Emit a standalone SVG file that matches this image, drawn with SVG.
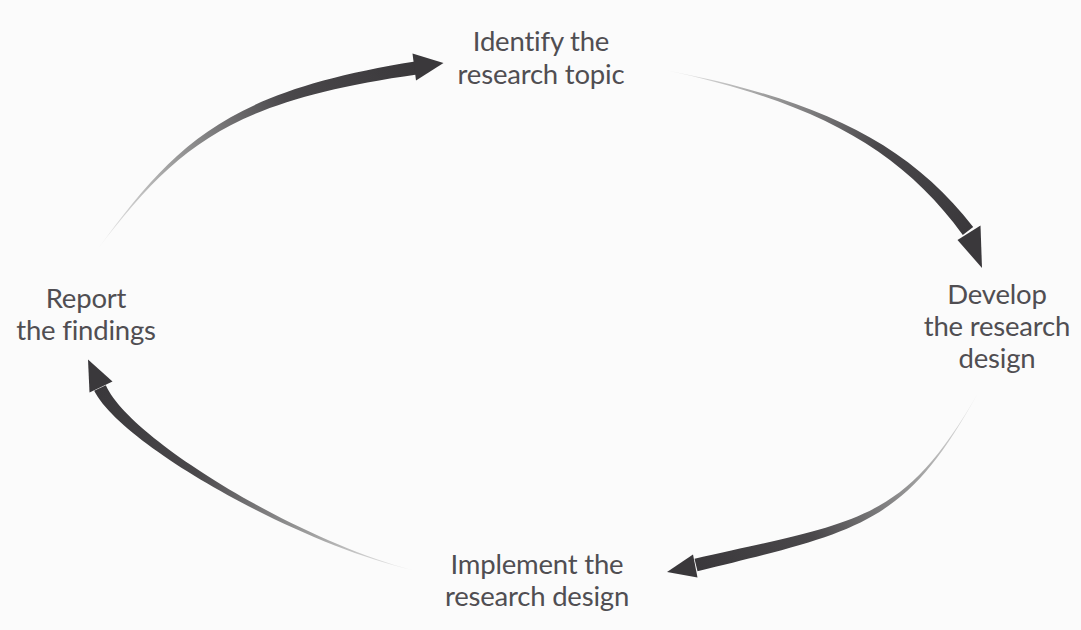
<svg xmlns="http://www.w3.org/2000/svg" width="1081" height="630" viewBox="0 0 1081 630">
  <style>
    .lbl { font-family: "Lato", "Liberation Sans", sans-serif; font-size: 27.5px; letter-spacing: -0.2px; fill: #504e52; text-anchor: middle; }
    .head { fill: #3a383b; }
  </style>
  <defs>
    <linearGradient id="g1" gradientUnits="userSpaceOnUse" x1="97" y1="250" x2="416" y2="68">
      <stop offset="0" stop-color="#f2f2f2"/>
      <stop offset="0.3" stop-color="#9c9c9c"/>
      <stop offset="0.65" stop-color="#4a484b"/>
      <stop offset="1" stop-color="#3a383b"/>
    </linearGradient>
    <linearGradient id="g2" gradientUnits="userSpaceOnUse" x1="665" y1="70" x2="968" y2="231">
      <stop offset="0" stop-color="#f2f2f2"/>
      <stop offset="0.3" stop-color="#9c9c9c"/>
      <stop offset="0.65" stop-color="#4a484b"/>
      <stop offset="1" stop-color="#3a383b"/>
    </linearGradient>
    <linearGradient id="g3" gradientUnits="userSpaceOnUse" x1="978" y1="393" x2="696" y2="565">
      <stop offset="0" stop-color="#f2f2f2"/>
      <stop offset="0.3" stop-color="#9c9c9c"/>
      <stop offset="0.65" stop-color="#4a484b"/>
      <stop offset="1" stop-color="#3a383b"/>
    </linearGradient>
    <linearGradient id="g4" gradientUnits="userSpaceOnUse" x1="412" y1="570" x2="100" y2="388">
      <stop offset="0" stop-color="#f2f2f2"/>
      <stop offset="0.3" stop-color="#9c9c9c"/>
      <stop offset="0.65" stop-color="#4a484b"/>
      <stop offset="1" stop-color="#3a383b"/>
    </linearGradient>
  </defs>
  <rect x="0" y="0" width="1081" height="630" fill="#fbfbfb"/>

  <g id="connectors">
    <g id="arrow-identify-to-develop">
      <path fill="url(#g2)" d="M665,70 C812.3,98.5 905.3,139.3 973.2,227.1 L962.8,234.9 C898.7,146.7 811.7,101.5 665,70 Z"/>
      <polygon class="head" points="982,268 957.5,240 980.5,225.5"/>
    </g>
    <g id="arrow-develop-to-implement">
      <path fill="url(#g3)" d="M978,393 C905.8,524.2 861.75,530.9 697.5,571.3 L694.5,558.7 C860.25,521.1 903.2,522.8 978,393 Z"/>
      <polygon class="head" points="667,572 693,554.5 697.5,577.5"/>
    </g>
    <g id="arrow-implement-to-report">
      <path fill="url(#g4)" d="M412,570 C295.2,542.7 122.3,445.5 94.15,390.8 L105.85,385.2 C129.3,438.5 296,539.7 412,570 Z"/>
      <polygon class="head" points="88,359.5 89.5,392.5 112.5,381.5"/>
    </g>
    <g id="arrow-report-to-identify">
      <path fill="url(#g1)" d="M97,250 C173.8,145.1 224.2,91.9 415,61.6 L417,74.4 C227.8,101.1 176.2,146.9 97,250 Z"/>
      <polygon class="head" points="443.5,63 412.5,53.5 416,80.5"/>
    </g>
  </g>

  <g id="node-identify">
    <text class="lbl" x="541" y="51">Identify the</text>
    <text class="lbl" x="541" y="84">research topic</text>
  </g>
  <g id="node-develop">
    <text class="lbl" x="997" y="304">Develop</text>
    <text class="lbl" x="997" y="336">the research</text>
    <text class="lbl" x="997" y="368">design</text>
  </g>
  <g id="node-implement">
    <text class="lbl" x="537" y="574">Implement the</text>
    <text class="lbl" x="537" y="606">research design</text>
  </g>
  <g id="node-report">
    <text class="lbl" x="86" y="308">Report</text>
    <text class="lbl" x="86" y="340">the findings</text>
  </g>
</svg>
